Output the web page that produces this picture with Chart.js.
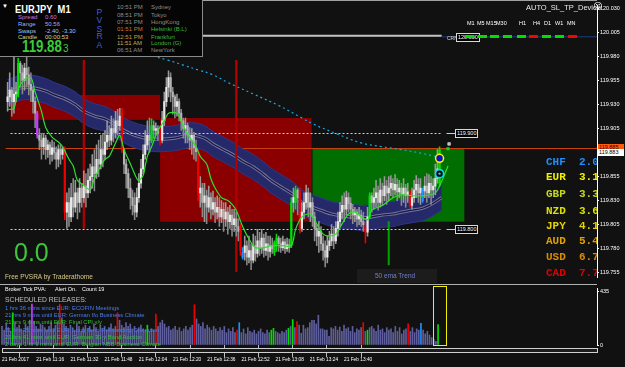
<!DOCTYPE html>
<html>
<head>
<meta charset="utf-8">
<script src="https://cdn.jsdelivr.net/npm/chart.js@4.4.1/dist/chart.umd.min.js"></script>
<style>
  html, body { margin: 0; padding: 0; background: #111; }
  #wrap { position: relative; width: 625px; height: 367px; overflow: hidden; background: #111;
          font-family: "Liberation Sans", Arial, sans-serif; }
  canvas { position: absolute; left: 0; }
  .t { position: absolute; white-space: nowrap; line-height: 1; }
  .box { position: absolute; background: #000; border: 1px solid #d8d8d8; color: #fff; font-size: 5.5px;
         line-height: 7px; height: 7px; padding: 0 1px; white-space: nowrap; }
  .dash { position: absolute; top: 35px; width: 9px; height: 2.5px; }
  .cur { position: absolute; left: 546px; width: 51px; overflow: hidden; white-space: pre; line-height: 1;
         font: bold 11px "Liberation Mono", "DejaVu Sans Mono", monospace; }
</style>
</head>
<body>
<div id="wrap">
  <canvas id="priceCanvas" width="625" height="283" style="top:0"></canvas>
  <canvas id="volCanvas" width="625" height="81" style="top:286px"></canvas>

  <div style="position:absolute;left:0;top:0;width:597px;height:1px;background:#a0a0a0"></div>
  <div style="position:absolute;left:0;top:284px;width:597px;height:1px;background:#b0b0b0"></div>
  <div style="position:absolute;left:2px;top:348px;width:594px;height:3px;border:1px solid #cfcfcf;background:#1c1c1c"></div>

  <!-- info panel -->
  <div style="position:absolute;left:0;top:0;width:202px;height:56px;background:#050505;border-right:1px solid #8a8a8a;border-bottom:1px solid #8a8a8a"></div>
  <div class="t" style="left:2px;top:3px;font-size:6px;color:#fff">▼</div>
  <div class="t" style="left:15px;top:3.6px;font-size:11px;font-weight:bold;color:#fff;transform:scaleX(0.85);transform-origin:left">EURJPY&nbsp;&nbsp;M1</div>
  <div class="t" style="left:18px;top:13.7px;font-size:6px;color:#d070d8">Spread</div>
  <div class="t" style="left:45px;top:13.7px;font-size:6px;color:#d070d8">0.60</div>
  <div class="t" style="left:18px;top:21px;font-size:6px;color:#a0a8ff">Range</div>
  <div class="t" style="left:45px;top:21px;font-size:6px;color:#a0a8ff">50.56</div>
  <div class="t" style="left:18px;top:27.7px;font-size:6px;color:#90c4ff">Swaps</div>
  <div class="t" style="left:45px;top:27.7px;font-size:6px;color:#90c4ff">-2.40, -3.30</div>
  <div class="t" style="left:18px;top:33.7px;font-size:6px;color:#e0d080">Candle</div>
  <div class="t" style="left:45px;top:33.7px;font-size:6px;color:#e0d080">00:00:53</div>
  <div class="t" style="left:22px;top:37.7px;font-size:17px;font-weight:bold;color:#3ccc3c;transform:scaleX(0.78);transform-origin:left">119.88</div>
  <div class="t" style="left:63px;top:43.6px;font-size:10px;color:#3ccc3c">3</div>

  <!-- top right -->
  <div class="t" style="left:526px;top:3.6px;font-size:7.5px;color:#e8e8e8">AUTO_SL_TP_Device</div>
  <div class="t" style="left:593px;top:2px;font-size:9px;color:#fff;font-family:'DejaVu Sans'">☺</div>
  <div class="t" style="left:447px;top:35.5px;font-size:5px;color:#ddd">CRN</div>
  <div class="box" id="lvl120" style="left:456px">120.000</div>
  <div class="box" id="lvl1199" style="left:455px">119.900</div>
  <div class="box" id="lvl1198" style="left:455px">119.800</div>
  <div class="box" id="askBox" style="left:598px;width:24px;background:#ff5a10;border:none;color:#300;height:7px">119.885</div>
  <div class="box" id="bidBox" style="left:598px;width:24px;background:#fff;border:none;color:#000;height:7px">119.883</div>

  <div class="t" style="left:14px;top:239.8px;font-size:25px;color:#3ec43e">0.0</div>
  <div class="t" style="left:5px;top:274.3px;font-size:6.5px;color:#d8cc88">Free  PVSRA  by  Traderathome</div>
  <div style="position:absolute;left:357px;top:269px;width:80px;height:14px;background:#1c1c1c"></div>
  <div class="t" style="left:375px;top:273px;font-size:6.5px;color:#7080d0">50 ema Trend</div>

  <!-- volume window texts -->
  <div class="t" style="left:5px;top:287.2px;font-size:5.5px;color:#fff">Broker Tick PVA:</div>
  <div class="t" style="left:55px;top:287.2px;font-size:5.5px;color:#fff">Alert On.</div>
  <div class="t" style="left:82px;top:287.2px;font-size:5.5px;color:#fff">Count  19</div>
  <div class="t" style="left:5px;top:296.6px;font-size:6.8px;color:#c0c0c0">SCHEDULED RELEASES:</div>
</div>

<script>
// EURJPY M1, 3-digit quote. Prices kept in points: price = BASE + pts / 1000
const BASE = 119;

// candles, one per minute from 11:00 (index 0)
const opens = [
  933,938,945,933,941,941,973,963,955,968, 961,951,945,933,921,898,893,886,895,883,
  888,878,885,880,873,883,878,883,818,828, 813,833,823,838,828,843,833,845,838,851,
  855,865,858,873,868,883,878,891,898,893, 905,901,913,908,921,883,868,858,843,833,
  825,818,833,848,863,878,888,898,893,908, 903,905,903,893,913,933,948,958,943,938,
  928,933,921,913,905,908,898,893,898,885, 881,838,843,828,835,823,833,821,828,818,
  823,813,821,811,818,808,815,805,811,803, 803,771,776,783,771,778,768,783,775,788,
  781,791,778,785,777,783,776,783,791,785, 781,787,780,784,783,828,828,841,840,801,
  818,828,838,823,828,813,801,793,798,785, 778,771,783,788,795,788,801,808,818,825,
  821,833,827,821,815,818,811,815,808,803, 797,813,835,828,833,838,828,841,835,845,
  838,843,848,841,847,839,843,837,843,835, 839,825,833,841,847,838,830,840,845,838,
  848,841,845,853,848
];
const closes = [
  938,945,933,941,943,973,963,955,968,961, 951,945,933,921,898,893,886,895,883,888,
  878,885,880,873,883,878,883,818,828,813, 833,823,838,828,843,833,845,838,851,855,
  865,858,873,868,883,878,891,898,893,905, 901,913,908,918,883,868,858,843,833,825,
  818,833,848,863,878,888,898,893,908,903, 905,900,893,913,933,948,958,943,938,928,
  933,921,913,905,908,898,893,898,885,881, 838,843,828,835,823,833,821,828,818,823,
  813,821,811,818,808,815,805,811,803,798, 778,776,783,771,778,768,783,775,788,781,
  791,778,785,777,783,780,786,791,785,781, 787,780,784,781,828,833,841,833,801,818,
  828,838,823,828,813,801,793,798,785,778, 771,783,788,795,788,801,808,818,825,821,
  833,827,821,815,818,811,815,808,805,797, 813,835,828,833,838,828,841,835,845,838,
  843,848,841,847,839,843,837,843,835,839, 825,833,841,847,838,843,840,845,838,848,
  841,845,853,863,883
];
const highs = [
  953,963,948,981,953,978,975,971,973,980, 969,963,948,938,923,905,900,900,898,893,
  891,893,891,886,888,888,886,886,838,843, 848,853,851,843,853,848,861,858,863,868,
  878,883,888,893,898,900,903,913,908,918, 915,923,925,926,926,883,873,863,853,841,
  838,843,858,873,888,903,913,916,915,913, 911,908,908,923,943,958,965,963,948,940,
  941,936,925,916,916,911,906,905,901,893, 883,855,848,848,841,845,838,840,833,835,
  833,830,828,828,823,825,821,821,818,811, 806,781,793,788,793,785,795,793,800,797,
  800,795,797,793,793,791,788,795,793,791, 793,790,791,790,833,843,845,843,843,828,
  838,846,843,838,833,818,805,808,803,793, 788,793,798,805,803,808,818,828,835,838,
  840,838,833,826,823,821,823,820,818,808, 823,838,838,843,851,845,853,848,855,851,
  855,856,853,857,853,851,848,853,847,848, 841,843,851,856,853,853,843,855,858,857,
  855,853,868,883,886
];
const lows = [
  923,928,918,921,933,938,948,941,945,948, 940,933,921,906,895,883,873,878,873,875,
  868,871,873,863,865,868,873,810,801,803, 808,813,818,811,818,823,828,823,833,838,
  843,840,853,855,863,865,873,883,886,888, 891,895,898,903,880,858,843,833,821,815,
  810,813,828,843,858,873,883,880,890,895, 898,893,888,890,908,928,938,933,920,916,
  918,913,903,895,890,890,883,878,873,871, 830,823,813,808,806,818,811,815,807,811,
  803,807,798,803,795,801,793,798,793,788, 773,769,768,763,765,758,765,767,771,773,
  775,771,773,768,771,775,773,777,777,776, 778,775,777,776,781,818,821,815,796,798,
  811,821,813,808,803,788,783,776,778,768, 761,765,778,783,780,785,793,803,811,808,
  815,818,811,806,808,803,805,803,798,786, 793,811,818,821,823,820,823,825,830,826,
  830,835,833,836,830,833,825,828,823,828, 823,821,828,833,828,826,828,833,828,833,
  826,833,836,848,845
];
const volumes = [
  150,120,170,140,110,260,180,140,160,130, 120,170,150,200,330,190,150,130,170,160,
  140,120,150,180,130,160,190,330,220,170, 150,130,160,140,120,170,150,110,140,160,
  130,150,120,170,140,110,160,130,150,120, 140,170,130,150,260,200,160,140,180,150,
  170,130,150,120,140,160,130,120,160,110, 130,120,250,150,180,200,170,140,150,120,
  130,150,120,140,110,130,150,120,140,160, 325,210,170,150,180,130,160,140,120,150,
  130,110,140,120,150,100,130,110,140,100, 120,180,100,130,90,140,110,100,120,90,
  110,130,100,90,120,100,120,135,110,100, 90,110,100,120,135,150,205,140,190,160,
  95,160,130,140,180,200,200,170,240,130, 130,120,120,70,140,130,150,120,145,110,
  160,130,140,110,150,100,130,120,140,180, 110,120,140,150,130,110,160,120,130,100,
  140,120,130,100,150,110,140,90,120,130, 170,110,140,100,130,120,175,120,90,110,
  80,60,45,30,165
];

// PVSRA bar classes (candle index)
const climaxBull = [5, 68, 126, 127, 134, 136, 171, 204];
const climaxBear = [27, 54, 72, 90, 110, 138, 169, 190];
const risingBull = [111, 196];
const risingBear = [14];

// slow band (centre, upper, lower) and fast MA, cyan long MA
const bandX = [0,4,8,13,18,22,27,32,36,41,46,51,55,60,65,69,74,79,83,88,93,97,102,107,111,116,121,125,130,135,139,144,149,153,158,163,167,172,177,182,186,191,196,200,205];
const bandMid = [943,946,948,947,944,940,936,930,923,918,915,909,903,898,895,894,894,895,897,898,895,889,883,877,871,865,857,850,843,836,828,823,819,816,814,813,812,813,815,816,818,820,822,826,833];
const bandUpper = [956,959,961,960,957,953,949,943,936,931,928,922,916,911,908,907,907,908,910,911,908,902,896,890,884,878,870,863,856,849,841,836,832,829,827,826,825,826,828,829,831,833,835,839,846];
const bandLower = [930,933,935,934,931,927,923,917,910,905,902,896,890,885,882,881,881,882,884,885,882,876,870,864,858,852,844,837,830,823,815,810,806,803,801,800,799,800,802,803,805,807,809,813,820];
const fastX = [0,3,5,8,11,13,16,18,21,24,26,29,31,33,36,39,41,44,46,48,51,53,55,57,59,61,62,64,65,66,68,71,74,76,80,82,84,86,89,91,94,96,98,101,104,106,108,111,114,117,121,125,130,134,136,139,143,146,149,152,155,158,161,164,167,170,172,177,182,186,192,197,202,205,208];
const fastMA = [925,926,946,956,958,943,923,906,896,891,886,873,866,851,846,841,853,866,873,876,890,898,883,873,863,853,851,856,866,876,886,903,913,921,921,913,903,896,886,876,868,853,843,833,830,826,820,803,790,781,781,783,783,783,800,813,816,806,795,793,795,806,816,818,813,810,820,825,833,836,835,835,838,850,866];
const longX = [55,76,83,90,97,104,116,128,139,144,156,167,177,186,196,204];
const longMA = [988,976,971,966,961,953,941,929,916,910,899,890,886,883,879,875];

// zones (supply / demand boxes)
const zoneFrom = [1.4, 72, 144];
const zoneTo = [72, 143.6, 215.7];
const zoneTop = [940, 916, 884];
const zoneBottom = [914, 808, 808];

// vertical session markers and trend marker
const markerX = [36, 108];
const markerTop = [976, 976];
const markerBottom = [801, 756];
const trendX = [180];
const trendRange = [[763, 808]];

// signals at the last bar
const signalX = [204, 204];
const signalPts = [874, 858];
const tagX = [208, 208.5];
const tagPts = [884, 889];

// levels
const roundLevel = 120.000;
const dottedLevels = [119.900, 119.800];
const askPrice = 119.885;
const bidPrice = 119.883;

// axes
const priceTicks = [120.030, 120.005, 119.980, 119.955, 119.930, 119.905, 119.880, 119.855, 119.830, 119.805, 119.780, 119.755];
const volTicks = [0, 435];
const timeTicks = [0, 16, 32, 48, 64, 80, 96, 112, 128, 144, 160];
const timeLabels = ['21 Feb 2017', '21 Feb 11:16', '21 Feb 11:32', '21 Feb 11:48', '21 Feb 12:04', '21 Feb 12:20',
                    '21 Feb 12:36', '21 Feb 12:52', '21 Feb 13:08', '21 Feb 13:24', '21 Feb 13:40'];

// panel texts
const clockTimes = ['10:51 PM', '08:51 PM', '07:51 PM', '01:51 PM', '12:51 PM', '11:51 AM', '06:51 AM'];
const clockCities = ['Sydney', 'Tokyo', 'HongKong', 'Helsinki  (B.L)', 'Frankfurt', 'London  (G)', 'NewYork'];
const currencies = ['CHF', 'EUR', 'GBP', 'NZD', 'JPY', 'AUD', 'USD', 'CAD'];
const strength = [2.0, 3.1, 3.3, 3.6, 4.1, 5.4, 6.7, 7.7];
const timeframes = ['M1', 'M5', 'M15', 'M30', 'H1', 'H4', 'D1', 'W1', 'MN'];
const tfUp = [true, true, true, true, true, false, true, true, false];
const news = [
  '1 hrs 36 mins since EUR: ECOFIN Meetings',
  '21 hrs 9 mins until EUR: German Ifo Business Climate',
  '21 hrs 9 mins until EUR: Final CPI y/y',
  '21 hrs 35 mins until EUR: Long Term Refinancing Operation',
  '21 hrs 41 mins until EUR: German 30-y Bond Auction',
  '2 days 1 hr 9 mins until EUR: Belgian NBB Business Climate'
];
const newsBull = [false, false, true, false, true, true];

// ---------------------------------------------------------------------------
const px = p => BASE + p / 1000;
const X_MIN = -0.94, X_MAX = 278.36;

function barColor(i, up, down) {
  if (climaxBull.includes(i)) return '#00e000';
  if (climaxBear.includes(i)) return '#ee0000';
  if (risingBull.includes(i)) return '#1e90ff';
  if (risingBear.includes(i)) return '#c040ff';
  return closes[i] >= opens[i] ? up : down;
}

const idx = opens.map((_, i) => i);
const xy = (xs, ys) => xs.map((x, i) => ({ x: x, y: px(ys[i]) }));

const zonePlugin = {
  id: 'zones',
  beforeDatasetsDraw(chart) {
    const { ctx, scales: { x, y }, chartArea } = chart;
    const zoneColors = ['#8a0000', '#8a0000', '#006e00'];
    ctx.save();
    zoneFrom.forEach((f, i) => {
      const x0 = x.getPixelForValue(f), x1 = x.getPixelForValue(zoneTo[i]);
      const y0 = y.getPixelForValue(px(zoneTop[i])), y1 = y.getPixelForValue(px(zoneBottom[i]));
      ctx.fillStyle = zoneColors[i];
      ctx.fillRect(x0, y0, x1 - x0, y1 - y0);
    });
    // ask line
    const ya = Math.round(y.getPixelForValue(askPrice)) + 0.5;
    ctx.strokeStyle = '#c8400e';
    ctx.lineWidth = 1;
    ctx.beginPath(); ctx.moveTo(chartArea.left, ya); ctx.lineTo(chartArea.right, ya); ctx.stroke();
    // round level
    const yr = y.getPixelForValue(roundLevel) - 1.5;
    const xr = x.getPixelForValue(205);
    ctx.strokeStyle = '#c4c4c4';
    ctx.lineWidth = 2;
    ctx.beginPath(); ctx.moveTo(chartArea.left, yr); ctx.lineTo(xr, yr); ctx.stroke();
    ctx.strokeStyle = '#1d3d80';
    ctx.lineWidth = 1;
    ctx.beginPath(); ctx.moveTo(xr, yr + 1); ctx.lineTo(chartArea.right, yr + 1); ctx.stroke();
    ctx.restore();
  },
  beforeDatasetDraw(chart, args) {
    if (args.index !== 6) return; // under the candles, over the band
    const { ctx, scales: { x, y } } = chart;
    ctx.save();
    ctx.strokeStyle = '#cfcfcf';
    ctx.lineWidth = 1;
    dottedLevels.forEach(l => {
      const yy = Math.round(y.getPixelForValue(l)) + 0.5;
      ctx.setLineDash([2, 2]);
      ctx.beginPath(); ctx.moveTo(x.getPixelForValue(1.4), yy); ctx.lineTo(x.getPixelForValue(205.4), yy); ctx.stroke();
      ctx.setLineDash([]);
      ctx.beginPath(); ctx.moveTo(x.getPixelForValue(207.3), yy); ctx.lineTo(x.getPixelForValue(212.3), yy); ctx.stroke();
    });
    ctx.restore();
  }
};

const lineDefaults = { type: 'line', pointRadius: 0, tension: 0.4, fill: false };

const priceChart = new Chart(document.getElementById('priceCanvas'), {
  type: 'bar',
  data: {
    datasets: [
      { ...lineDefaults, data: xy(bandX, bandUpper), borderColor: '#30358a', borderWidth: 1,
        fill: '+1', backgroundColor: '#25296a', order: 20 },
      { ...lineDefaults, data: xy(bandX, bandLower), borderColor: '#30358a', borderWidth: 1, order: 19 },
      { ...lineDefaults, data: xy(bandX, bandMid), borderColor: '#7474a0', borderWidth: 3.2, order: 18 },
      { ...lineDefaults, data: xy(bandX, bandMid), borderColor: '#17173c', borderWidth: 1.2, order: 17 },
      { data: markerX.map((m, i) => ({ x: m, y: [px(markerBottom[i]), px(markerTop[i])] })),
        backgroundColor: '#b00000', barThickness: 1.6, grouped: false, order: 16 },
      { data: trendX.map((m, i) => ({ x: m, y: trendRange[i].map(px) })),
        backgroundColor: '#00a000', barThickness: 1.4, grouped: false, order: 16 },
      { data: idx.map(i => ({ x: i, y: [px(lows[i]), px(highs[i])] })),
        backgroundColor: idx.map(i => barColor(i, '#9a9a9a', '#8a8a8a')),
        barThickness: 0.9, grouped: false, order: 15 },
      { data: idx.map(i => ({ x: i, y: [px(opens[i]), px(closes[i])] })),
        backgroundColor: idx.map(i => barColor(i, '#e8e8e8', '#b4b4b4')),
        barThickness: 1.5, minBarLength: 1, grouped: false, order: 14 },
      { ...lineDefaults, data: xy(fastX, fastMA), borderColor: '#2ee02e', borderWidth: 1.2, tension: 0.3, order: 12 },
      { ...lineDefaults, data: xy(longX, longMA), borderColor: '#1aa6e6', borderWidth: 1.2, borderDash: [2, 3], order: 11 },
      { type: 'line', showLine: false, data: xy(tagX, tagPts), pointStyle: 'rect', pointRadius: [1.8, 1.8],
        pointBackgroundColor: ['#00dd00', '#b0b0b0'], pointBorderColor: ['#00dd00', '#ffffff'], pointBorderWidth: 0.6, order: 4 },
      { type: 'line', showLine: false, data: xy([signalX[0]], [signalPts[0]]), pointRadius: 4,
        pointBackgroundColor: '#0a10c8', pointBorderColor: '#ffee00', pointBorderWidth: 1.6, order: 3 },
      { type: 'line', showLine: false, data: xy([signalX[1]], [signalPts[1]]), pointRadius: 4,
        pointBackgroundColor: '#000', pointBorderColor: '#10d8ff', pointBorderWidth: 1.6, order: 2 },
      { type: 'line', showLine: false, data: xy([signalX[1]], [signalPts[1]]), pointRadius: 1.2,
        pointBackgroundColor: '#10d8ff', pointBorderWidth: 0, order: 1 }
    ]
  },
  options: {
    responsive: false, animation: false, events: [],
    layout: { padding: 0 },
    plugins: { legend: { display: false }, tooltip: { enabled: false } },
    scales: {
      x: { type: 'linear', min: X_MIN, max: X_MAX, offset: false, display: false },
      y: {
        type: 'linear', position: 'right', min: 119.750, max: 120.033,
        afterBuildTicks: s => { s.ticks = priceTicks.map(v => ({ value: v })); },
        afterFit: s => { s.width = 28; s.paddingTop = 0; s.paddingBottom = 0; },
        ticks: { color: '#fff', font: { size: 5.5, family: 'Liberation Sans' }, padding: 1,
                 callback: v => v.toFixed(3) },
        grid: { drawOnChartArea: false, tickLength: 2, color: '#fff' },
        border: { color: '#fff' }
      }
    }
  },
  plugins: [zonePlugin]
});

const volBoxPlugin = {
  id: 'volBox',
  afterDatasetsDraw(chart) {
    const { ctx, scales: { x }, chartArea } = chart;
    const x0 = Math.round(x.getPixelForValue(201.6)) + 0.5, x1 = Math.round(x.getPixelForValue(207.7)) + 0.5;
    ctx.save();
    ctx.strokeStyle = '#f0f000';
    ctx.lineWidth = 1;
    ctx.strokeRect(x0, chartArea.top - 1.5, x1 - x0, chartArea.bottom - chartArea.top + 2);
    ctx.restore();
  }
};

new Chart(document.getElementById('volCanvas'), {
  type: 'bar',
  data: {
    datasets: [{
      data: idx.map(i => ({ x: i, y: volumes[i] })),
      backgroundColor: idx.map(i => barColor(i, '#5e5e9c', '#5e5e9c')),
      barThickness: 1, grouped: false
    }]
  },
  options: {
    responsive: false, animation: false, events: [],
    layout: { padding: { top: 2 } },
    plugins: { legend: { display: false }, tooltip: { enabled: false } },
    scales: {
      x: {
        type: 'linear', min: X_MIN, max: X_MAX, offset: false, position: 'bottom',
        afterBuildTicks: s => { s.ticks = timeTicks.map(v => ({ value: v })); },
        afterFit: s => { s.height = 22; s.paddingLeft = 0; s.paddingRight = 0; },
        ticks: { callback: (v, i) => timeLabels[i], align: 'start', autoSkip: false, maxRotation: 0,
                 color: '#fff', font: { size: 4.8, family: 'Liberation Sans' }, padding: 0 },
        grid: { drawOnChartArea: false, tickLength: 12, color: '#bdbdbd' },
        border: { display: false }
      },
      y: {
        type: 'linear', position: 'right', min: 0, max: 460,
        afterBuildTicks: s => { s.ticks = volTicks.map(v => ({ value: v })); },
        afterFit: s => { s.width = 28; s.paddingTop = 0; s.paddingBottom = 0; },
        ticks: { color: '#fff', font: { size: 5.5, family: 'Liberation Sans' }, padding: 1 },
        grid: { drawOnChartArea: false, tickLength: 2, color: '#fff' },
        border: { color: '#fff' }
      }
    }
  },
  plugins: [volBoxPlugin]
});

// ---- HTML text overlays -----------------------------------------------------
const wrap = document.getElementById('wrap');
function addText(text, left, top, style) {
  const d = document.createElement('div');
  d.className = 't';
  d.textContent = text;
  d.style.left = left + 'px';
  d.style.top = top + 'px';
  Object.assign(d.style, style || {});
  wrap.appendChild(d);
  return d;
}

const pvsraY = [12.2, 20.3, 28.8, 36.3, 44.7];
'PVSRA'.split('').forEach((ch, i) =>
  addText(ch, 96.6, pvsraY[i] - 4.2, { fontSize: '8.6px', color: '#3f5fd8' }));

const clockY = [6.7, 15, 21.7, 29.3, 36.7, 43.3, 50];
const clockTimeColor = ['#8c8c8c', '#8c8c8c', '#8c8c8c', '#c87830', '#d09a40', '#b8b060', '#8c8c8c'];
const clockCityColor = ['#8c8c8c', '#8c8c8c', '#8c8c8c', '#3cb83c', '#3cb83c', '#3cb83c', '#8c8c8c'];
clockTimes.forEach((t, i) => {
  addText(t, 117, clockY[i] - 3, { fontSize: '6px', color: clockTimeColor[i] });
  addText(clockCities[i], 151, clockY[i] - 3, { fontSize: '6px', color: clockCityColor[i] });
});

const tfLeft = [467, 477, 486, 496, 519, 533, 544, 555, 567];
const dashLeft = [465, 478, 490, 503, 517, 529, 542, 555, 568];
timeframes.forEach((tf, i) => {
  addText(tf, tfLeft[i], 20.8, { fontSize: '5.5px', color: '#fff' });
  const d = document.createElement('div');
  d.className = 'dash';
  d.style.left = dashLeft[i] + 'px';
  d.style.background = tfUp[i] ? '#00e000' : '#ff0000';
  wrap.appendChild(d);
});

const curY = [161, 176.7, 193.3, 210, 225, 240.5, 256.5, 272.7];
const curColor = ['#1e90ff', '#f0f000', '#c4d820', '#d8e000', '#e8d400', '#e0a000', '#d88c00', '#e00000'];
currencies.forEach((c, i) => {
  const d = document.createElement('div');
  d.className = 'cur';
  d.textContent = c + '  ' + strength[i].toFixed(1);
  d.style.top = (curY[i] - 5.4) + 'px';
  d.style.color = curColor[i];
  wrap.appendChild(d);
});

const newsY = [309, 316, 323.3, 331, 338.3, 345];
news.forEach((n, i) =>
  addText(n, 5, newsY[i] - 3, { fontSize: '5.8px', color: newsBull[i] ? '#30c430' : '#4a7cf0' }));

// price boxes follow the chart's own y scale
const ys = priceChart.scales.y;
const setTop = (id, price) => { document.getElementById(id).style.top = (ys.getPixelForValue(price) - 4.5) + 'px'; };
setTop('lvl120', roundLevel);
setTop('lvl1199', dottedLevels[0]);
setTop('lvl1198', dottedLevels[1]);
document.getElementById('askBox').style.top = (ys.getPixelForValue(askPrice) - 4) + 'px';
document.getElementById('bidBox').style.top = (ys.getPixelForValue(bidPrice) - 0.5) + 'px';
</script>
</body>
</html>
